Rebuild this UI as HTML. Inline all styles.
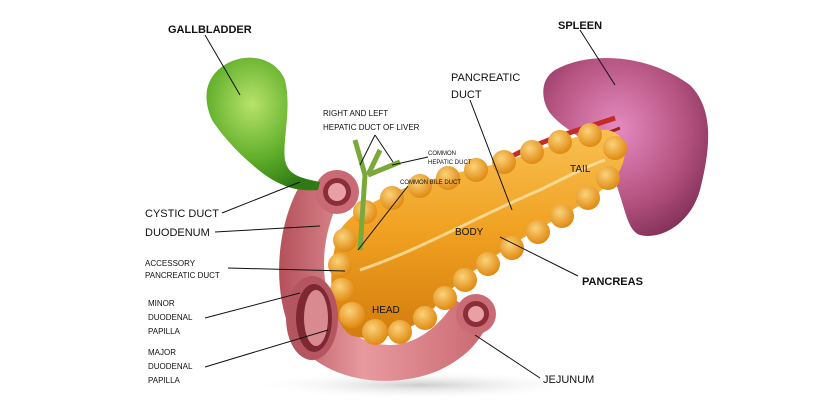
<!DOCTYPE html>
<html><head><meta charset="utf-8"><style>
html,body{margin:0;padding:0;background:#fff;}
svg{display:block;}
text{font-family:"Liberation Sans",sans-serif;fill:#111;}
</style></head><body>
<svg width="830" height="400" viewBox="0 0 830 400" xmlns="http://www.w3.org/2000/svg">
<defs>
<radialGradient id="gb" cx="40%" cy="35%" r="70%"><stop offset="0" stop-color="#b8e36a"/><stop offset="0.6" stop-color="#5fae2a"/><stop offset="1" stop-color="#2f7a15"/></radialGradient>
<radialGradient id="sp" cx="45%" cy="40%" r="70%"><stop offset="0" stop-color="#e58bc0"/><stop offset="0.6" stop-color="#b4527f"/><stop offset="1" stop-color="#7a2a52"/></radialGradient>
<linearGradient id="pa" x1="0" y1="0" x2="0" y2="1"><stop offset="0" stop-color="#f8c052"/><stop offset="0.5" stop-color="#f0a020"/><stop offset="1" stop-color="#d27c0e"/></linearGradient>
<linearGradient id="du" x1="0" y1="0" x2="1" y2="0"><stop offset="0" stop-color="#b4505a"/><stop offset="0.4" stop-color="#e79a9e"/><stop offset="1" stop-color="#c9686f"/></linearGradient>
<radialGradient id="sh" cx="50%" cy="50%" r="50%"><stop offset="0" stop-color="#ccc"/><stop offset="1" stop-color="#fff" stop-opacity="0"/></radialGradient>
<radialGradient id="bub" cx="40%" cy="35%" r="65%"><stop offset="0" stop-color="#fbd27a"/><stop offset="1" stop-color="#e08a12"/></radialGradient>
</defs>
<ellipse cx="420" cy="385" rx="170" ry="14" fill="url(#sh)"/>
<!-- spleen -->
<path d="M555 70 C590 50 650 55 690 85 C715 110 710 150 700 190 C690 225 660 240 640 235 C625 230 625 200 610 170 C595 140 560 130 548 110 C540 95 542 78 555 70 Z" fill="url(#sp)"/>
<!-- vessels -->
<path d="M505 160 C540 140 580 130 615 118" stroke="#c42a2a" stroke-width="5" fill="none"/>
<path d="M520 165 C560 150 590 140 620 128" stroke="#a01e1e" stroke-width="3" fill="none"/>
<!-- duodenum C -->
<path d="M300 185 C280 220 270 280 290 330 C310 375 380 395 440 370 C470 355 480 340 490 320 L455 300 C445 320 420 345 390 345 C355 345 330 320 325 280 C320 240 335 205 345 190 Z" fill="url(#du)"/>
<circle cx="337" cy="192" r="22" fill="#c96a74"/><circle cx="337" cy="192" r="14" fill="#8a2e3a"/><circle cx="337" cy="192" r="9" fill="#e8a0a6"/>
<!-- pancreas -->
<path d="M340 230 C360 200 420 180 470 170 C520 160 560 140 600 130 C625 128 630 150 620 170 C600 200 560 215 520 240 C480 265 460 280 440 300 C420 330 380 345 350 335 C330 320 325 270 340 230 Z" fill="url(#pa)"/>
<g fill="url(#bub)">
<circle cx="345" cy="240" r="12"/><circle cx="340" cy="265" r="12"/><circle cx="342" cy="290" r="12"/><circle cx="352" cy="315" r="13"/><circle cx="375" cy="332" r="13"/><circle cx="400" cy="332" r="12"/><circle cx="425" cy="318" r="12"/><circle cx="445" cy="298" r="12"/>
<circle cx="465" cy="280" r="12"/><circle cx="488" cy="264" r="12"/><circle cx="512" cy="248" r="12"/><circle cx="538" cy="232" r="12"/><circle cx="562" cy="216" r="12"/><circle cx="588" cy="198" r="12"/><circle cx="608" cy="178" r="12"/>
<circle cx="365" cy="212" r="12"/><circle cx="392" cy="198" r="12"/><circle cx="420" cy="186" r="12"/><circle cx="448" cy="178" r="12"/><circle cx="476" cy="170" r="12"/><circle cx="504" cy="162" r="12"/><circle cx="532" cy="152" r="12"/><circle cx="560" cy="142" r="12"/><circle cx="590" cy="135" r="12"/><circle cx="615" cy="148" r="12"/>
</g>
<path d="M360 270 C420 250 480 215 540 190 C570 175 590 165 605 160" stroke="#fbe3a8" stroke-width="3" fill="none" opacity="0.8"/>
<!-- duodenum inner opening -->
<ellipse cx="312" cy="318" rx="26" ry="42" fill="#b45560"/><ellipse cx="314" cy="318" rx="18" ry="34" fill="#7e2834"/><ellipse cx="316" cy="318" rx="12" ry="28" fill="#d98a91"/>
<!-- jejunum -->
<circle cx="476" cy="314" r="20" fill="#c96a74"/><circle cx="476" cy="314" r="13" fill="#8a2e3a"/><circle cx="476" cy="314" r="8" fill="#e8a0a6"/>
<!-- gallbladder -->
<path d="M218 70 C240 50 275 55 285 80 C292 110 282 140 285 160 C288 175 300 178 320 182 L318 190 C295 192 280 185 265 175 C245 160 225 140 212 120 C203 100 205 82 218 70 Z" fill="url(#gb)"/>
<!-- ducts -->
<path d="M355 140 L365 175 L360 250 M380 150 L368 175 M368 175 L400 162" stroke="#7aa93a" stroke-width="5" fill="none"/>
<!-- leader lines -->
<g stroke="#111" stroke-width="1" fill="none">
<line x1="205" y1="35" x2="240" y2="95"/>
<line x1="580" y1="30" x2="615" y2="85"/>
<line x1="470" y1="100" x2="512" y2="210"/>
<line x1="375" y1="135" x2="360" y2="165"/><line x1="375" y1="135" x2="393" y2="162"/>
<line x1="428" y1="157" x2="392" y2="165"/>
<line x1="408" y1="186" x2="358" y2="250"/>
<line x1="222" y1="213" x2="300" y2="182"/>
<line x1="215" y1="232" x2="320" y2="226"/>
<line x1="228" y1="268" x2="345" y2="271"/>
<line x1="205" y1="318" x2="300" y2="293"/>
<line x1="205" y1="367" x2="328" y2="330"/>
<line x1="500" y1="237" x2="578" y2="276"/>
<line x1="540" y1="378" x2="475" y2="335"/>
</g>
<text x="168" y="33" font-size="11" font-weight="bold">GALLBLADDER</text>
<text x="558" y="29" font-size="11" font-weight="bold">SPLEEN</text>
<text x="451" y="81" font-size="11">PANCREATIC</text>
<text x="451" y="98" font-size="11">DUCT</text>
<text x="323" y="116" font-size="8">RIGHT AND LEFT</text>
<text x="323" y="130" font-size="8">HEPATIC DUCT OF LIVER</text>
<text x="428" y="155" font-size="6">COMMON</text>
<text x="428" y="164" font-size="6">HEPATIC DUCT</text>
<text x="400" y="184" font-size="6">COMMON BILE DUCT</text>
<text x="570" y="172" font-size="10">TAIL</text>
<text x="145" y="217" font-size="11">CYSTIC DUCT</text>
<text x="145" y="236" font-size="11">DUODENUM</text>
<text x="455" y="235" font-size="10">BODY</text>
<text x="145" y="266" font-size="8">ACCESSORY</text>
<text x="145" y="278" font-size="8">PANCREATIC DUCT</text>
<text x="582" y="285" font-size="11" font-weight="bold">PANCREAS</text>
<text x="148" y="306" font-size="8">MINOR</text>
<text x="148" y="320" font-size="8">DUODENAL</text>
<text x="148" y="334" font-size="8">PAPILLA</text>
<text x="372" y="313" font-size="10">HEAD</text>
<text x="148" y="355" font-size="8">MAJOR</text>
<text x="148" y="369" font-size="8">DUODENAL</text>
<text x="148" y="383" font-size="8">PAPILLA</text>
<text x="543" y="383" font-size="11">JEJUNUM</text>
</svg>
</body></html>
